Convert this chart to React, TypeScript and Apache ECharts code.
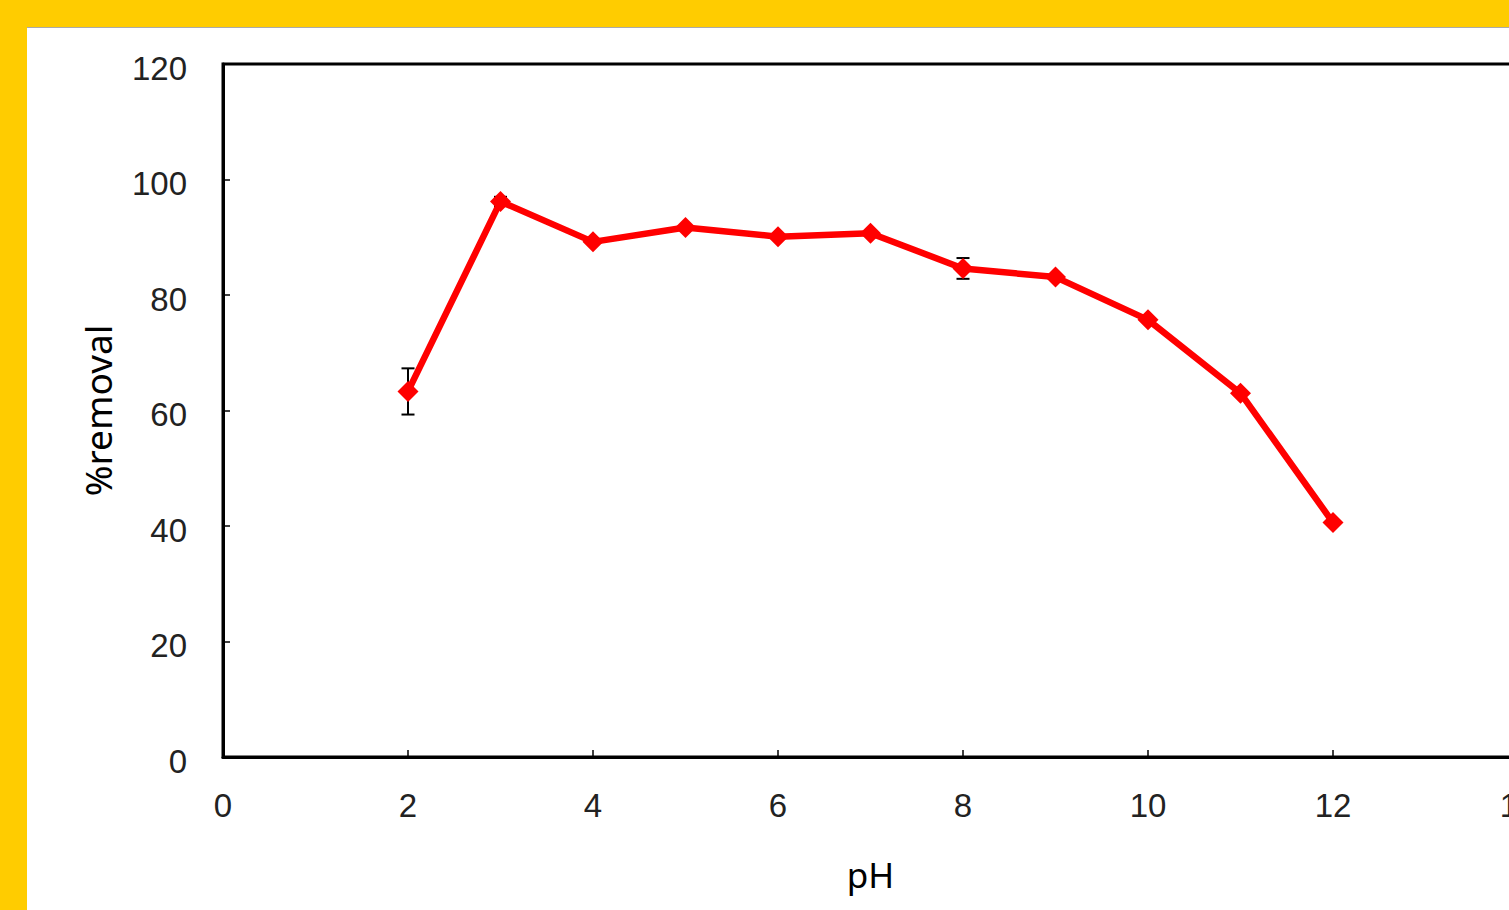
import React, { useEffect, useRef } from "react";
import * as echarts from "echarts";

const phValues = [2, 3, 4, 5, 6, 7, 8, 9, 10, 11, 12];
const removal = [63.3, 96.2, 89.2, 91.7, 90.1, 90.7, 84.6, 83.1, 75.7, 63.0, 40.6];
const errorValues = [4.0, 0.8, 0, 0, 0, 0, 1.8, 0, 0, 0, 0];
const xTicks = [0, 2, 4, 6, 8, 10, 12, 14];
const yTicks = [0, 20, 40, 60, 80, 100, 120];

export default function App() {
  const ref = useRef<HTMLDivElement>(null);
  useEffect(() => {
    document.body.style.margin = "0";
    const chart = echarts.init(ref.current!, null, { renderer: "svg" });
    const lineData = phValues.map((x, i) => [x, removal[i]]);
    const errData = phValues.map((x, i) => [x, removal[i] - errorValues[i], removal[i] + errorValues[i]]);
    const tickFont = "'Liberation Sans', Arial, sans-serif";
    chart.setOption({
      animation: false,
      grid: {
        left: 223,
        top: 64,
        width: 1295,
        height: 693,
        show: true,
        borderColor: "#000",
        borderWidth: 3,
        backgroundColor: "transparent",
      },
      xAxis: {
        type: "value",
        min: xTicks[0],
        max: xTicks[xTicks.length - 1],
        interval: 2,
        name: "pH",
        nameLocation: "middle",
        nameGap: 100,
        nameTextStyle: { fontFamily: "'Noto Sans', sans-serif", fontSize: 35, color: "#000" },
        axisLine: { show: true, lineStyle: { color: "#000", width: 3 } },
        axisTick: { show: true, inside: true, length: 7, lineStyle: { color: "#000", width: 1.5 } },
        axisLabel: { margin: 32, fontFamily: tickFont, fontSize: 33, color: "#222" },
        splitLine: { show: false },
      },
      yAxis: {
        type: "value",
        min: yTicks[0],
        max: yTicks[yTicks.length - 1],
        interval: 20,
        name: "%removal",
        nameLocation: "middle",
        nameGap: 107,
        nameRotate: 90,
        nameTextStyle: { fontFamily: "'Noto Sans', sans-serif", fontSize: 37, color: "#000" },
        axisLine: { show: true, lineStyle: { color: "#000", width: 3 } },
        axisTick: { show: true, inside: true, length: 7, lineStyle: { color: "#000", width: 1.5 } },
        axisLabel: { margin: 36, fontFamily: tickFont, fontSize: 33, color: "#222", verticalAlign: "top", lineHeight: 8 },
        splitLine: { show: false },
      },
      series: [
        {
          type: "custom",
          name: "error",
          data: errData,
          z: 1,
          renderItem: (params: any, api: any) => {
            const x = api.value(0);
            const lo = api.coord([x, api.value(1)]);
            const hi = api.coord([x, api.value(2)]);
            const cw = 6.5;
            const style = { stroke: "#000", lineWidth: 2 };
            return {
              type: "group",
              children: [
                { type: "line", shape: { x1: lo[0], y1: lo[1], x2: hi[0], y2: hi[1] }, style },
                { type: "line", shape: { x1: lo[0] - cw, y1: lo[1], x2: lo[0] + cw, y2: lo[1] }, style },
                { type: "line", shape: { x1: hi[0] - cw, y1: hi[1], x2: hi[0] + cw, y2: hi[1] }, style },
              ],
            };
          },
        },
        {
          type: "line",
          name: "%removal",
          data: lineData,
          z: 2,
          symbol: "diamond",
          symbolSize: 21,
          lineStyle: { color: "#ff0000", width: 6.5 },
          itemStyle: { color: "#ff0000" },
        },
      ],
    });
    return () => chart.dispose();
  }, []);
  return (
    <div style={{ position: "fixed", left: 0, top: 0, width: 1509, height: 910, overflow: "hidden", background: "#FFCC00" }}>
      <div style={{ position: "absolute", left: 27, top: 27, width: 1700, height: 900, background: "#fff", borderTop: "1px solid #aaa", boxSizing: "border-box" }} />
      <div ref={ref} style={{ position: "absolute", left: 0, top: 0, width: 1700, height: 910 }} />
    </div>
  );
}
